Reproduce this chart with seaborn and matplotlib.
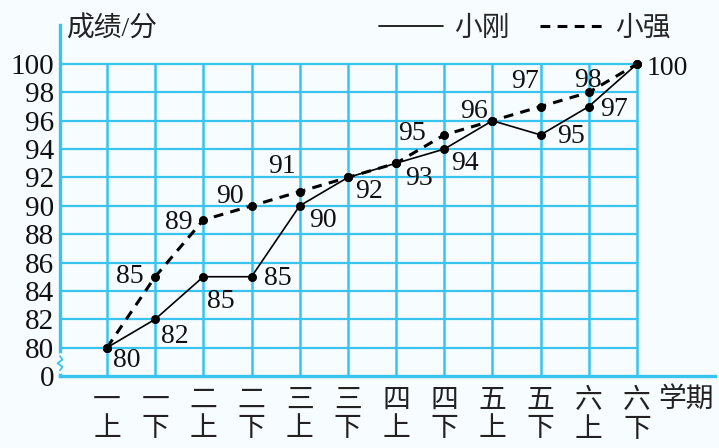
import matplotlib
matplotlib.use("Agg")
import matplotlib.pyplot as plt
from matplotlib.lines import Line2D
import seaborn as sns
import pandas as pd
import numpy as np

# ---- data ----
semesters = ["一\n上", "一\n下", "二\n上", "二\n下", "三\n上", "三\n下",
             "四\n上", "四\n下", "五\n上", "五\n下", "六\n上", "六\n下"]
xiaogang = [80, 82, 85, 85, 90, 92, 93, 94, 96, 95, 97, 100]
xiaoqiang = [80, 85, 89, 90, 91, 92, 93, 95, 96, 97, 98, 100]
y_ticks = [80, 82, 84, 86, 88, 90, 92, 94, 96, 98, 100]
series_names = ["小刚", "小强"]

# label offsets in pixels (dx, dy up) per point; None = no label
gang_off = [(20, -13), (20, -17), (17, -25), (26, -2), (23, -15), (21, -14),
            (23, -15), (21, -14), (-18, 9), (30, -2), (25, -3), (30, -4)]
qiang_off = [None, (-25, 0), (-25, -2), (-22, 9), (-18, 25), None,
             None, (-32, 1), None, (-16, 25), (-1, 12), None]

sns.set_theme(style="white")
plt.rcParams['font.family'] = ['Liberation Serif', 'Noto Sans CJK SC', 'DejaVu Sans']

bg = "#f7fcfe"
grid_c = "#38c4ef"
fig = plt.figure(figsize=(7.19, 4.48), dpi=100, facecolor=bg)
ax = fig.add_axes([60/719, 72/448, 655/719, 351/448])
ax.set_facecolor(bg)

n = len(semesters)
x = np.arange(n)
xmin, xmax = -0.975, 12.62
ymin, ymax = 78, 102.75

# grid
ax.hlines(y_ticks, xmin, n - 1, color=grid_c, lw=1.6, zorder=1)
ax.vlines(x, ymin, y_ticks[-1], color=grid_c, lw=1.8, zorder=1)

df = pd.DataFrame({"pos": np.concatenate([x, x]),
                   "score": xiaogang + xiaoqiang,
                   "name": [series_names[0]] * n + [series_names[1]] * n})

sns.lineplot(data=df[df.name == series_names[0]], x="pos", y="score", ax=ax,
             color="black", lw=1.2, marker="o", markersize=6.5,
             markeredgewidth=0, legend=False, zorder=3)
sns.lineplot(data=df[df.name == series_names[1]], x="pos", y="score", ax=ax,
             color="black", lw=2.2, marker="o", markersize=6.5,
             markeredgewidth=0, legend=False, zorder=3, dashes=False)
ax.lines[-1].set_dashes((3.2, 2.4))

for vals, offs in ((xiaogang, gang_off), (xiaoqiang, qiang_off)):
    for i, (v, o) in enumerate(zip(vals, offs)):
        if o is None:
            continue
        ax.annotate(str(v), (x[i], v), xytext=o, textcoords="offset pixels",
                    ha="center", va="center", fontsize=20, color="#111111",
                    zorder=4, annotation_clip=False)

ax.set_xlim(xmin, xmax)
ax.set_ylim(ymin, ymax)
ax.set_xticks(x)
ax.set_xticklabels(semesters, fontsize=20, linespacing=1.2, color="#222222")
ax.set_yticks([78] + y_ticks)
ax.set_yticklabels(["0"] + [str(t) for t in y_ticks], fontsize=21, color="#111111")
ax.tick_params(axis="both", length=0)
ax.tick_params(axis="y", pad=4)
ax.tick_params(axis="x", pad=9)
ax.set_xlabel("")
ax.set_ylabel("")

for s in ["top", "right"]:
    ax.spines[s].set_visible(False)
for s in ["left", "bottom"]:
    ax.spines[s].set_color(grid_c)
    ax.spines[s].set_linewidth(2.4)

# axis break zigzag
zx = [xmin, xmin + 0.05, xmin - 0.05, xmin + 0.05, xmin]
zy = [79.4, 79.15, 78.9, 78.65, 78.4]
ax.plot([xmin, xmin], [78.35, 79.45], color=bg, lw=3.5, zorder=5, clip_on=False)
ax.plot(zx, zy, color=grid_c, lw=1.3, zorder=6, clip_on=False)

ax.text(-0.83, 102.45, "成绩/分", fontsize=20, ha="left", va="center", color="#222222")
ax.text(11.45, 76.3, "学期", fontsize=20, ha="left", va="center", color="#222222",
        clip_on=False)

handles = [Line2D([], [], color="black", lw=1.2),
           Line2D([], [], color="black", lw=2.2, dashes=(3.2, 2.4))]
fig.legend(handles, series_names, loc="center", bbox_to_anchor=(0.73, 0.935),
           ncol=2, frameon=False, fontsize=20, handlelength=2.3,
           handletextpad=0.4, columnspacing=1.1, borderpad=0)

fig.savefig("out.png", dpi=100, facecolor=bg)
